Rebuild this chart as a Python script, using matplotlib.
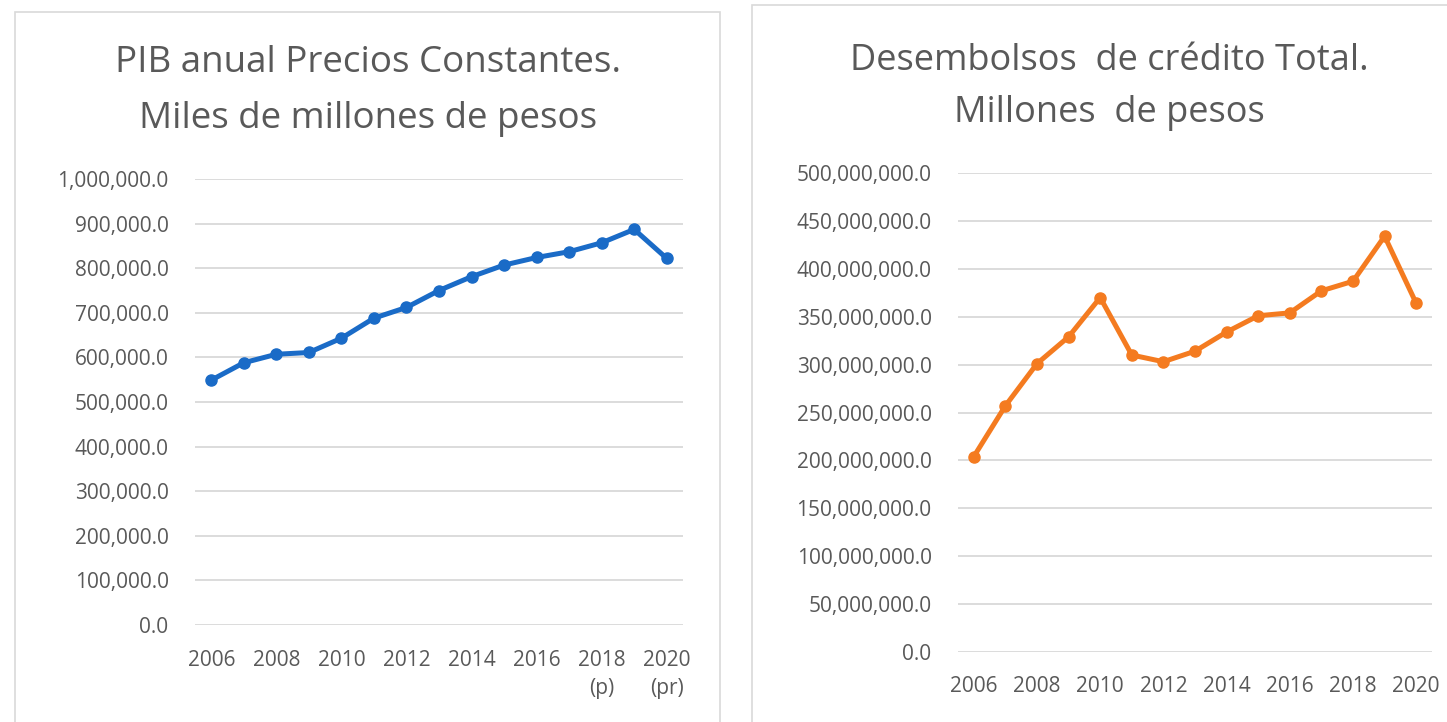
import matplotlib.pyplot as plt
from matplotlib.patches import Rectangle
from matplotlib.ticker import FuncFormatter

plt.rcParams['font.family'] = ['Open Sans', 'DejaVu Sans']

years = list(range(2006, 2021))
pib = [549000, 588000, 607000, 611000, 643000, 688000, 712000, 750000,
       781000, 807000, 824000, 837000, 857000, 887000, 822000]
desembolsos = [204e6, 257e6, 301e6, 329e6, 370e6, 310e6, 303e6, 314e6,
               334e6, 351e6, 354e6, 377e6, 387e6, 434e6, 364e6]

pib_ticks = [2006, 2008, 2010, 2012, 2014, 2016, 2018, 2020]
pib_ticklabels = ['2006', '2008', '2010', '2012', '2014', '2016', '2018\n(p)', '2020\n(pr)']
des_ticks = [2006, 2008, 2010, 2012, 2014, 2016, 2018, 2020]
des_ticklabels = ['2006', '2008', '2010', '2012', '2014', '2016', '2018', '2020']

W, H = 1447, 722
fig = plt.figure(figsize=(W / 100, H / 100), dpi=100)
gray = '#595959'


def px_axes(x0, x1, ytop, ybot):
    return fig.add_axes([x0 / W, (H - ybot) / H, (x1 - x0) / W, (ybot - ytop) / H])


# frames around each chart
fig.patches.append(Rectangle((15 / W, -0.01), 705 / W, (H - 12) / H + 0.01,
                             transform=fig.transFigure, fill=False,
                             edgecolor='#d9d9d9', lw=1.2))
fig.patches.append(Rectangle((752 / W, -0.01), 700 / W, (H - 5) / H + 0.01,
                             transform=fig.transFigure, fill=False,
                             edgecolor='#d9d9d9', lw=1.2))


def style(ax, ymax, step, ticks, labels, ypad, xpad):
    ax.set_xlim(2005.5, 2020.5)
    ax.set_ylim(0, ymax)
    ax.set_yticks([i * step for i in range(int(round(ymax / step)) + 1)])
    ax.yaxis.set_major_formatter(FuncFormatter(lambda v, p: f'{v:,.1f}'))
    ax.set_xticks(ticks)
    ax.set_xticklabels(labels)
    for s in ax.spines.values():
        s.set_visible(False)
    ax.grid(axis='y', color='#d9d9d9', lw=1.3)
    ax.set_axisbelow(True)
    ax.tick_params(axis='y', length=0, pad=ypad, labelsize=15, labelcolor=gray)
    ax.tick_params(axis='x', length=0, pad=xpad, labelsize=15, labelcolor=gray)


ax1 = px_axes(195, 683, 179, 625)
ax1.plot(years, pib, color='#1a6bc7', lw=3.6, marker='o', ms=8, solid_capstyle='round')
style(ax1, 1e6, 1e5, pib_ticks, pib_ticklabels, 19, 18)
for t in ax1.get_xticklabels():
    t.set_linespacing(1.45)
fig.text(368 / W, 1 - 91 / H, 'PIB anual Precios Constantes.\nMiles de millones de pesos',
         ha='center', va='center', fontsize=26.5, color=gray, linespacing=1.72)

ax2 = px_axes(958, 1432, 173, 652)
ax2.plot(years, desembolsos, color='#f47b20', lw=3.6, marker='o', ms=8, solid_capstyle='round')
style(ax2, 5e8, 5e7, des_ticks, des_ticklabels, 19, 17)
fig.text(1109 / W, 1 - 87 / H, 'Desembolsos  de crédito Total.\nMillones  de pesos',
         ha='center', va='center', fontsize=26, color=gray, linespacing=1.62)

fig.savefig('out.png', dpi=100)
